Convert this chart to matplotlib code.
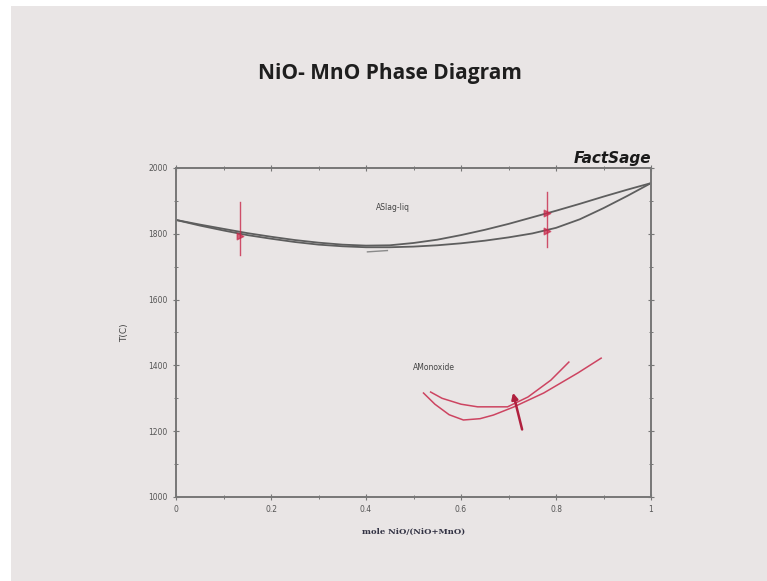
import matplotlib.pyplot as plt
from matplotlib.patches import Rectangle
from matplotlib.ticker import MultipleLocator

comp = [0.0, 0.05, 0.1, 0.15, 0.2, 0.25, 0.3, 0.35, 0.4, 0.45, 0.5,
        0.55, 0.6, 0.65, 0.7, 0.75, 0.8, 0.85, 0.9, 0.95, 1.0]
liquidus_T = [1842, 1828, 1815, 1802, 1791, 1781, 1773, 1767, 1764, 1765, 1772,
              1782, 1796, 1812, 1830, 1850, 1870, 1891, 1913, 1934, 1954]
solidus_T = [1842, 1825, 1810, 1796, 1785, 1775, 1767, 1762, 1759, 1759, 1761,
             1765, 1771, 1779, 1789, 1801, 1818, 1844, 1878, 1915, 1954]
stray_x = [0.403, 0.445]
stray_T = [1745, 1749]

# hand drawn red pen marks
pen1_x = [0.521, 0.545, 0.575, 0.605, 0.640, 0.668, 0.710, 0.774, 0.846, 0.895]
pen1_T = [1316, 1282, 1250, 1234, 1238, 1249, 1273, 1316, 1377, 1422]
pen2_x = [0.536, 0.560, 0.600, 0.635, 0.698, 0.741, 0.789, 0.827]
pen2_T = [1319, 1300, 1282, 1274, 1274, 1304, 1355, 1410]
cross_x = [0.708, 0.730]
cross_T = [1325, 1197]
marks_x = [0.135, 0.78]
marks_lo = [1736, 1760]
marks_hi = [1897, 1927]
blob_x = [0.135, 0.78, 0.78]
blob_T = [1792, 1863, 1807]

slide_bg = '#e9e5e5'
pen_red = '#c8284a'

fig = plt.figure(figsize=(7.67, 5.81), dpi=100, facecolor='white')
fig.patches.append(Rectangle((11/767, 0), 1, 575/581, transform=fig.transFigure,
                             facecolor=slide_bg, edgecolor='none', zorder=-10))

fig.text(0.508, 0.874, 'NiO- MnO Phase Diagram', ha='center', va='center',
         fontsize=15, fontweight='bold', family='Open Sans', color='#1e1e1e')

ax = fig.add_axes([0.2295, 0.1446, 0.6193, 0.5663])
ax.set_facecolor(slide_bg)

ax.plot(comp, liquidus_T, color='#5e5e5e', lw=1.3)
ax.plot(comp, solidus_T, color='#5e5e5e', lw=1.3)
ax.plot(stray_x, stray_T, color='#8a8a8a', lw=1.0)

ax.plot(pen1_x, pen1_T, color=pen_red, lw=1.1, alpha=0.85)
ax.plot(pen2_x, pen2_T, color=pen_red, lw=1.1, alpha=0.85)
ax.annotate('', xy=(cross_x[0], cross_T[0]), xytext=(cross_x[1], cross_T[1]),
            arrowprops=dict(arrowstyle='-|>', color='#b0203e', lw=1.8,
                            mutation_scale=9))
for i in range(len(marks_x)):
    ax.plot([marks_x[i], marks_x[i]], [marks_lo[i], marks_hi[i]],
            color=pen_red, lw=1.0, alpha=0.8)
ax.scatter(blob_x, blob_T, marker='>', s=22, color=pen_red, alpha=0.7, zorder=3)

ax.text(0.457, 1881, 'ASlag-liq', fontsize=5.5, ha='center', va='center', color='#444444')
ax.text(0.542, 1395, 'AMonoxide', fontsize=5.5, ha='center', va='center', color='#444444')

ax.set_xlim(0, 1)
ax.set_ylim(1000, 2000)
ax.xaxis.set_minor_locator(MultipleLocator(0.1))
ax.yaxis.set_major_locator(MultipleLocator(200))
ax.yaxis.set_minor_locator(MultipleLocator(100))
ax.set_xticks([0, 0.2, 0.4, 0.6, 0.8, 1.0])
ax.set_xticklabels(['0', '0.2', '0.4', '0.6', '0.8', '1'])
ax.tick_params(which='both', direction='inout', top=True, right=True,
               color='#777777', labelsize=5.5, labelcolor='#555555', pad=4)
ax.tick_params(which='major', length=4, width=0.8)
ax.tick_params(which='minor', length=2.5, width=0.7)
for s in ax.spines.values():
    s.set_color('#777777')
    s.set_linewidth(1.4)

ax.set_xlabel('mole NiO/(NiO+MnO)', family='DejaVu Serif', fontsize=6,
              fontweight='bold', color='#333344', labelpad=10)
ax.set_ylabel('T(C)', fontsize=6.5, color='#444444', labelpad=14)

ax.text(1.0, 1.005, 'FactSage', transform=ax.transAxes, ha='right', va='bottom',
        fontsize=11, fontweight='bold', style='italic', color='#1a1a1a')

fig.savefig('out.png', dpi=100, facecolor=fig.get_facecolor())
